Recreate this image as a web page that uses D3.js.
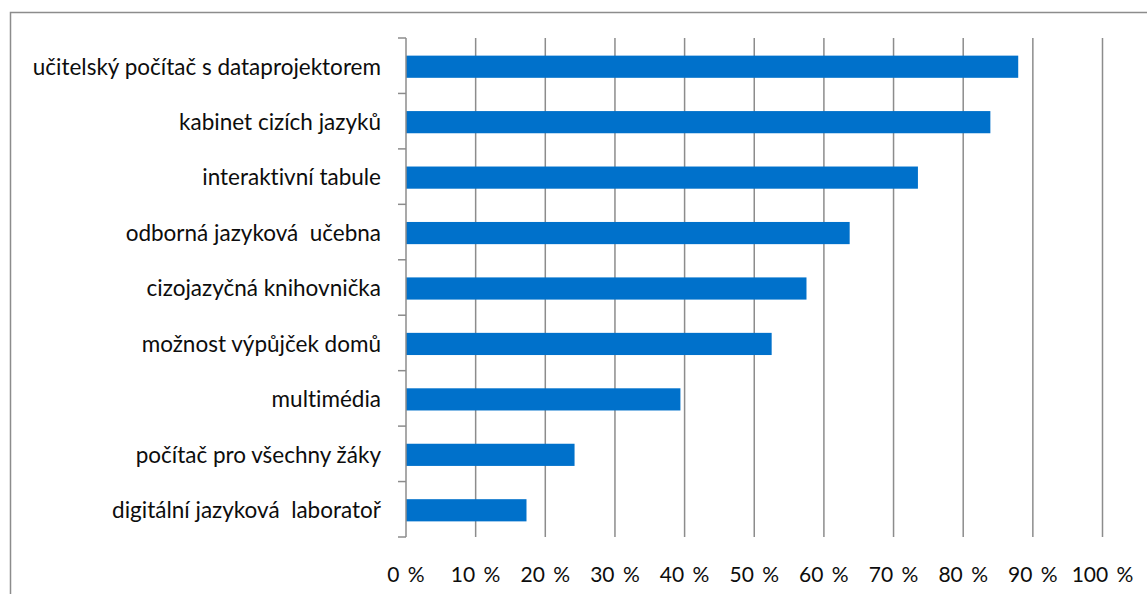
<!DOCTYPE html>
<html>
<head>
<meta charset="utf-8">
<title>Vybavení školy</title>
<style>
  body { margin: 0; background: #fff; }
  svg text { font-family: Lato, "Open Sans", sans-serif; fill: #0d0d0d; font-variant-ligatures: none; }
</style>
</head>
<body>
<svg id="chart"></svg>
<script src="https://cdn.jsdelivr.net/npm/d3@7"></script>
<script>
var categories = [
  "učitelský počítač s dataprojektorem",
  "kabinet cizích jazyků",
  "interaktivní tabule",
  "odborná jazyková  učebna",
  "cizojazyčná knihovnička",
  "možnost výpůjček domů",
  "multimédia",
  "počítač pro všechny žáky",
  "digitální jazyková  laboratoř"
];
var values = [87.9, 83.9, 73.5, 63.7, 57.5, 52.5, 39.4, 24.2, 17.3];
var tickValues = [0, 10, 20, 30, 40, 50, 60, 70, 80, 90, 100];

var width = 1147, height = 594;
var plotLeft = 406, plotRight = 1102.5, plotTop = 38, plotBottom = 537;
var grey = "#8c8c8c";

var svg = d3.select("#chart").attr("width", width).attr("height", height);

// frame of the chart area (runs out of the picture on right and bottom)
svg.append("rect")
  .attr("x", 10.5).attr("y", 12.5)
  .attr("width", 1160).attr("height", 620)
  .attr("fill", "none").attr("stroke", grey).attr("stroke-width", 1.5);

var x = d3.scaleLinear().domain([0, 100]).range([plotLeft, plotRight]);
var y = d3.scaleBand().domain(categories).range([plotTop, plotBottom]).paddingInner(0.6).paddingOuter(0.3);

// vertical gridlines
svg.append("g").selectAll("line")
  .data(tickValues.slice(1))
  .enter().append("line")
  .attr("x1", function(d) { return x(d); })
  .attr("x2", function(d) { return x(d); })
  .attr("y1", plotTop).attr("y2", plotBottom)
  .attr("stroke", grey).attr("stroke-width", 1.5);

// bars
svg.append("g").selectAll("rect")
  .data(values)
  .enter().append("rect")
  .attr("x", x(0))
  .attr("y", function(d, i) { return y(categories[i]) + 1; })
  .attr("width", function(d) { return x(d) - x(0); })
  .attr("height", y.bandwidth())
  .attr("fill", "#0071cb");

// category axis with ticks on the band boundaries
var step = (plotBottom - plotTop) / categories.length;
var yAxis = svg.append("g");
yAxis.append("line")
  .attr("x1", plotLeft).attr("x2", plotLeft)
  .attr("y1", plotTop).attr("y2", plotBottom)
  .attr("stroke", grey).attr("stroke-width", 1.5);
yAxis.selectAll("line.tick")
  .data(d3.range(categories.length + 1))
  .enter().append("line")
  .attr("class", "tick")
  .attr("x1", plotLeft - 8).attr("x2", plotLeft)
  .attr("y1", function(i) { return plotTop + i * step; })
  .attr("y2", function(i) { return plotTop + i * step; })
  .attr("stroke", grey).attr("stroke-width", 1.5);

yAxis.selectAll("text")
  .data(categories)
  .enter().append("text")
  .attr("x", 381)
  .attr("y", function(d) { return y(d) + y.bandwidth() / 2 + 1; })
  .attr("dy", "0.35em")
  .attr("text-anchor", "end")
  .style("font-size", "22.5px")
  .style("white-space", "pre")
  .text(function(d) { return d; });

// percent labels
svg.append("g").selectAll("text")
  .data(tickValues)
  .enter().append("text")
  .attr("x", function(d) { return x(d); })
  .attr("y", 582)
  .attr("text-anchor", "middle")
  .style("font-size", "21px")
  .style("word-spacing", "3px")
  .text(function(d) { return d + " %"; });
</script>
</body>
</html>
